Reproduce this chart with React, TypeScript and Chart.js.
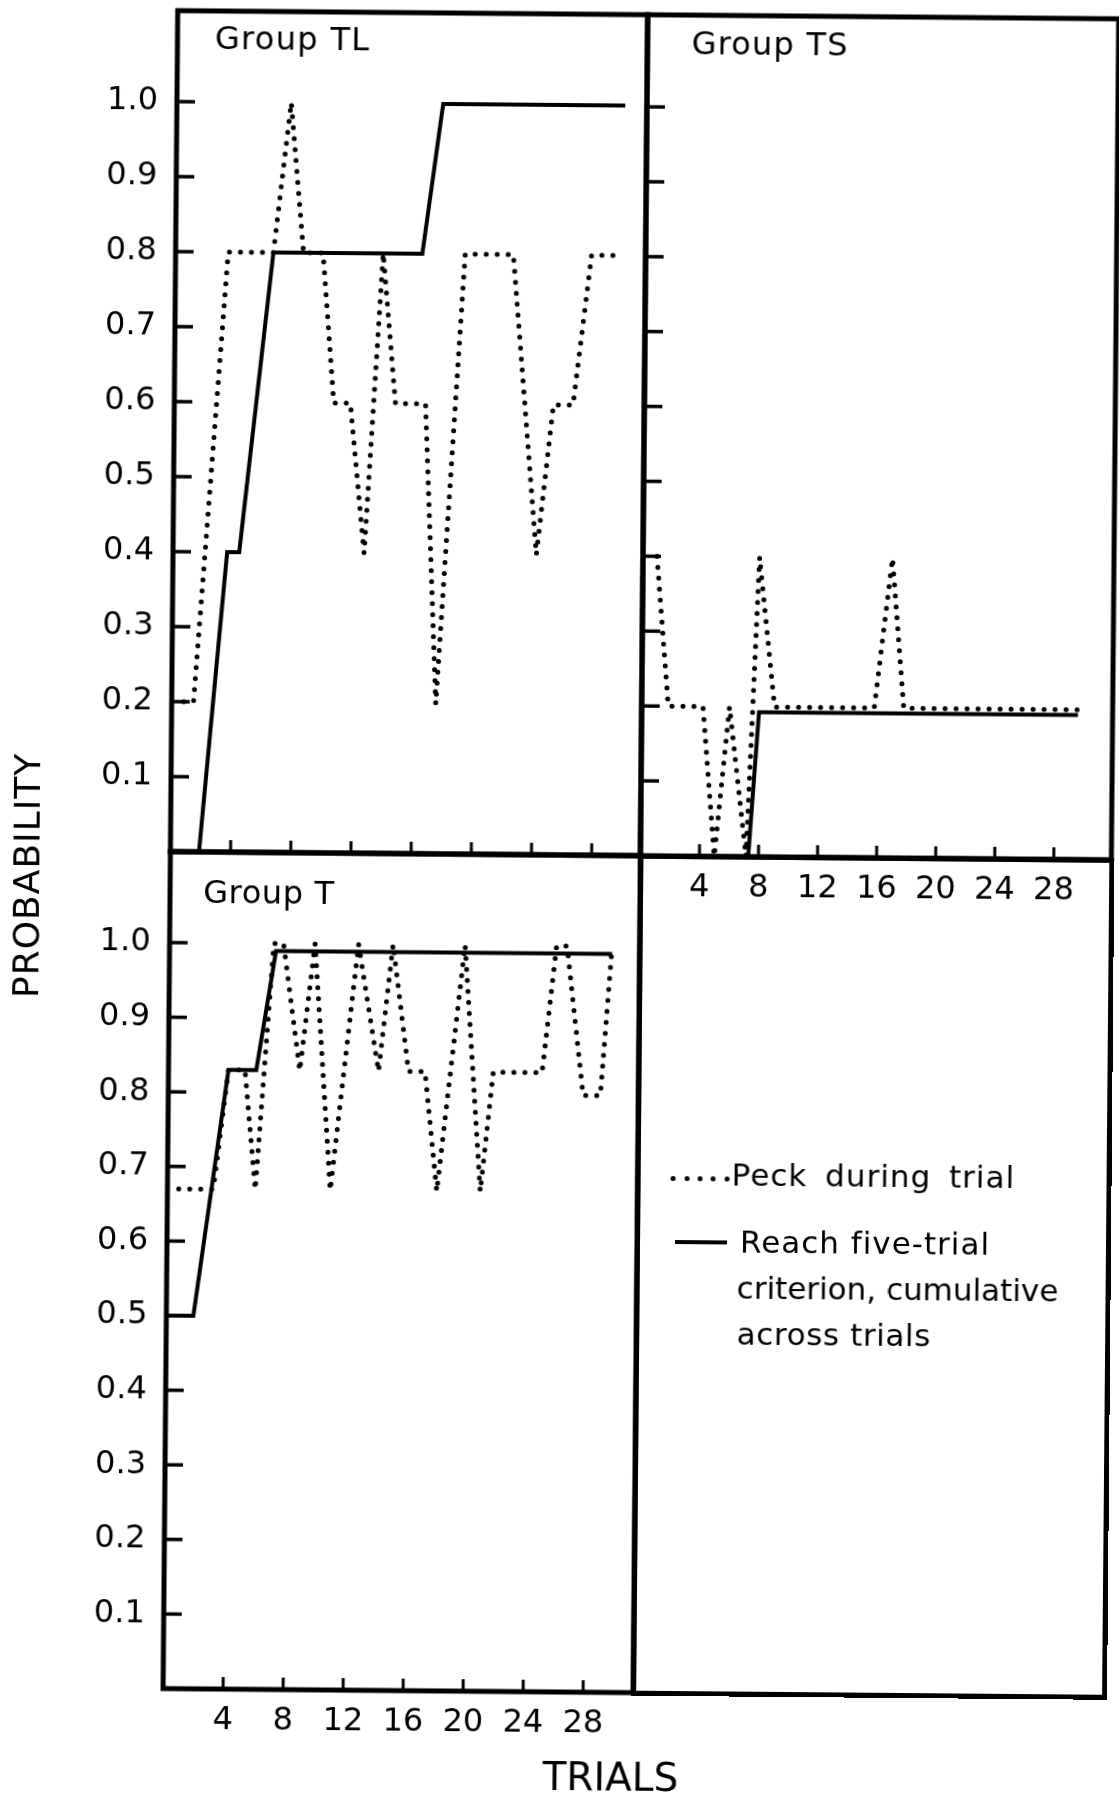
import React, { useEffect, useRef } from "react";
import { Chart, registerables } from "chart.js";

Chart.register(...registerables);

// ---------------- data ----------------
const yTickValues = [0.1, 0.2, 0.3, 0.4, 0.5, 0.6, 0.7, 0.8, 0.9, 1.0];
const xTickValues = [4, 8, 12, 16, 20, 24, 28];

// Group TL
const tlPeckTrials = [0.8, 1.45, 3.5, 6.5, 7.6, 8.5, 9.8, 10.6, 11.7, 12.7, 13.8, 14.7, 16.7, 17.55, 19.25, 22.45, 24.15, 25.2, 26.5, 27.65, 29.2];
const tlPeckProb = [0.2, 0.2, 0.8, 0.8, 1.0, 0.8, 0.8, 0.6, 0.6, 0.4, 0.8, 0.6, 0.6, 0.2, 0.8, 0.8, 0.4, 0.6, 0.6, 0.8, 0.8];
const tlCritTrials = [1.9, 3.6, 4.4, 6.5, 16.4, 17.7, 29.8];
const tlCritProb = [0, 0.4, 0.4, 0.8, 0.8, 1.0, 1.0];

// Group TS
const tsPeckTrials = [0.95, 1.8, 4.15, 5.0, 5.95, 7.15, 7.9, 9.0, 15.75, 16.9, 17.75, 29.55];
const tsPeckProb = [0.4, 0.2, 0.2, 0, 0.2, 0, 0.4, 0.2, 0.2, 0.4, 0.2, 0.2];
const tsCritTrials = [7.3, 7.95, 29.55];
const tsCritProb = [0, 0.193, 0.193];

// Group T
const tPeckTrials = [0.75, 3.05, 4.0, 5.1, 5.85, 6.95, 7.6, 8.75, 9.7, 10.85, 12.6, 14.0, 14.9, 16.0, 17.1, 17.95, 19.7, 20.85, 21.65, 24.9, 25.8, 26.5, 27.65, 28.8, 29.5];
const tPeckProb = [0.67, 0.67, 0.83, 0.83, 0.67, 1.0, 1.0, 0.83, 1.0, 0.67, 1.0, 0.83, 1.0, 0.83, 0.83, 0.67, 1.0, 0.67, 0.83, 0.83, 1.0, 1.0, 0.8, 0.8, 1.0];
const tCritTrials = [0, 1.8, 4.0, 5.85, 7.1, 29.5];
const tCritProb = [0.5, 0.5, 0.83, 0.83, 0.99, 0.99];

const peckLabel = "Peck during trial";
const critLabel = "Reach five-trial criterion, cumulative across trials";

// ---------------- styling ----------------
const FONT = '"DejaVu Sans", sans-serif';

function toPoints(trials: number[], prob: number[]) {
  return trials.map((t, i) => ({ x: t, y: prob[i] }));
}

const framePlugin = {
  id: "panelFrame",
  afterDatasetsDraw(chart: any) {
    const { ctx, chartArea: a, scales } = chart;
    ctx.save();
    ctx.strokeStyle = "#000";
    ctx.lineCap = "butt";
    ctx.lineWidth = 3.5;
    scales.y.ticks.forEach((t: any) => {
      const y = scales.y.getPixelForValue(t.value);
      ctx.beginPath();
      ctx.moveTo(a.left, y);
      ctx.lineTo(a.left + 18, y);
      ctx.stroke();
    });
    ctx.lineWidth = 3;
    scales.x.ticks.forEach((t: any) => {
      const x = scales.x.getPixelForValue(t.value);
      ctx.beginPath();
      ctx.moveTo(x, a.bottom);
      ctx.lineTo(x, a.bottom - 12);
      ctx.stroke();
    });
    ctx.lineWidth = 5;
    ctx.strokeRect(a.left, a.top, a.right - a.left, a.bottom - a.top);
    ctx.restore();
  },
};

type PanelProps = {
  left: number;
  top: number;
  width: number;
  height: number;
  padding: { left: number; top: number; right: number; bottom: number };
  yWidth: number;
  xHeight: number;
  showY: boolean;
  showX: boolean;
  xMax: number;
  yMax: number;
  peckTrials: number[];
  peckProb: number[];
  critTrials: number[];
  critProb: number[];
};

function Panel(p: PanelProps) {
  const ref = useRef<HTMLCanvasElement>(null);
  useEffect(() => {
    const chart = new Chart(ref.current as HTMLCanvasElement, {
      type: "line",
      data: {
        datasets: [
          {
            label: peckLabel,
            data: toPoints(p.peckTrials, p.peckProb),
            borderColor: "#000",
            borderWidth: 5,
            borderDash: [0, 11],
            borderCapStyle: "round",
            borderJoinStyle: "round",
            pointRadius: 0,
            fill: false,
            tension: 0,
          } as any,
          {
            label: critLabel,
            data: toPoints(p.critTrials, p.critProb),
            borderColor: "#000",
            borderWidth: 4,
            borderJoinStyle: "miter",
            pointRadius: 0,
            fill: false,
            tension: 0,
          } as any,
        ],
      },
      options: {
        responsive: false,
        animation: false,
        events: [],
        layout: { padding: p.padding },
        plugins: { legend: { display: false }, tooltip: { enabled: false } },
        scales: {
          x: {
            type: "linear",
            min: 0,
            max: p.xMax,
            grid: { display: false, drawTicks: false },
            border: { display: false },
            ticks: {
              display: p.showX,
              autoSkip: false,
              maxRotation: 0,
              padding: 12,
              color: "#000",
              font: { family: FONT, size: 32 },
              callback: (v: any) => String(v),
            },
            afterBuildTicks: (s: any) => {
              s.ticks = xTickValues.map((v) => ({ value: v }));
            },
            afterFit: (s: any) => {
              s.height = p.xHeight;
            },
          },
          y: {
            type: "linear",
            min: 0,
            max: p.yMax,
            grid: { display: false, drawTicks: false },
            border: { display: false },
            ticks: {
              display: p.showY,
              autoSkip: false,
              padding: 19,
              color: "#000",
              font: { family: FONT, size: 32 },
              callback: (v: any) => Number(v).toFixed(1),
            },
            afterBuildTicks: (s: any) => {
              s.ticks = yTickValues.map((v) => ({ value: v }));
            },
            afterFit: (s: any) => {
              s.width = p.yWidth;
            },
          },
        },
      } as any,
      plugins: [framePlugin],
    });
    return () => chart.destroy();
  }, []);
  return (
    <canvas
      ref={ref}
      width={p.width}
      height={p.height}
      style={{ position: "absolute", left: p.left, top: p.top, width: p.width, height: p.height }}
    />
  );
}

function Txt(props: { left: number; top: number; size: number; spacing?: number; word?: number; children: any }) {
  return (
    <div
      style={{
        position: "absolute",
        left: props.left,
        top: props.top,
        fontFamily: FONT,
        fontSize: props.size,
        lineHeight: `${props.size}px`,
        letterSpacing: props.spacing ?? 0,
        wordSpacing: props.word ?? 0,
        color: "#000",
        whiteSpace: "nowrap",
      }}
    >
      {props.children}
    </div>
  );
}

export default function App() {
  const legendDots = [0, 1, 2, 3, 4];
  return (
    <div style={{ position: "absolute", left: 0, top: 0, width: 1119, height: 1799, overflow: "hidden", background: "#fff" }}>
      <div
        style={{
          position: "absolute",
          left: 0,
          top: 0,
          width: 1119,
          height: 1799,
          transform: "rotate(0.5deg)",
          transformOrigin: "559.5px 899.5px",
        }}
      >
        <Panel
          left={0}
          top={-31}
          width={685}
          height={931}
          padding={{ left: 0, top: 45, right: 45, bottom: 45 }}
          yWidth={170}
          xHeight={0}
          showY={true}
          showX={false}
          xMax={31.24}
          yMax={1.1213}
          peckTrials={tlPeckTrials}
          peckProb={tlPeckProb}
          critTrials={tlCritTrials}
          critProb={tlCritProb}
        />
        <Panel
          left={595}
          top={-31}
          width={561}
          height={986}
          padding={{ left: 45, top: 45, right: 45, bottom: 45 }}
          yWidth={0}
          xHeight={55}
          showY={false}
          showX={true}
          xMax={31.9}
          yMax={1.123}
          peckTrials={tsPeckTrials}
          peckProb={tsPeckProb}
          critTrials={tsCritTrials}
          critProb={tsCritProb}
        />
        <Panel
          left={0}
          top={810}
          width={685}
          height={982}
          padding={{ left: 0, top: 45, right: 45, bottom: 45 }}
          yWidth={170}
          xHeight={55}
          showY={true}
          showX={true}
          xMax={31.33}
          yMax={1.122}
          peckTrials={tPeckTrials}
          peckProb={tPeckProb}
          critTrials={tCritTrials}
          critProb={tCritProb}
        />

        {/* legend quadrant frame */}
        <div
          style={{
            position: "absolute",
            left: 637.5,
            top: 852.5,
            width: 476,
            height: 842,
            border: "5px solid #000",
            boxSizing: "border-box",
          }}
        />

        {/* panel titles */}
        <Txt left={207.5} top={25.2} size={32} spacing={1.3}>Group TL</Txt>
        <Txt left={684.2} top={26.1} size={32} spacing={1.2}>Group TS</Txt>
        <Txt left={203.2} top={878.6} size={32} spacing={0.6}>Group T</Txt>

        {/* legend */}
        {legendDots.map((k) => (
          <div
            key={k}
            style={{
              position: "absolute",
              left: 675.7 + k * 13.35 - 2.5,
              top: 1177.1 - 2.5,
              width: 5,
              height: 5,
              borderRadius: "50%",
              background: "#000",
            }}
          />
        ))}
        <Txt left={734.1} top={1158.4} size={31} spacing={1} word={7}>Peck during trial</Txt>
        <div style={{ position: "absolute", left: 678, top: 1238.5, width: 51.7, height: 4, background: "#000" }} />
        <Txt left={743} top={1224.5} size={31} spacing={1}>Reach five-trial</Txt>
        <Txt left={740.1} top={1270.8} size={31} spacing={0}>criterion, cumulative</Txt>
        <Txt left={740.5} top={1317.4} size={31} spacing={0.6}>across trials</Txt>

        {/* axis titles */}
        <div
          style={{
            position: "absolute",
            left: 26.5,
            top: 879.6,
            transform: "translate(-50%, -50%) rotate(-90deg)",
            fontFamily: FONT,
            fontSize: 36,
            lineHeight: "36px",
            letterSpacing: 1,
            color: "#000",
            whiteSpace: "nowrap",
          }}
        >
          PROBABILITY
        </div>
        <div
          style={{
            position: "absolute",
            left: 618.1,
            top: 1776.1,
            transform: "translate(-50%, -50%)",
            fontFamily: FONT,
            fontSize: 39,
            lineHeight: "39px",
            color: "#000",
            whiteSpace: "nowrap",
          }}
        >
          TRIALS
        </div>
      </div>
    </div>
  );
}
